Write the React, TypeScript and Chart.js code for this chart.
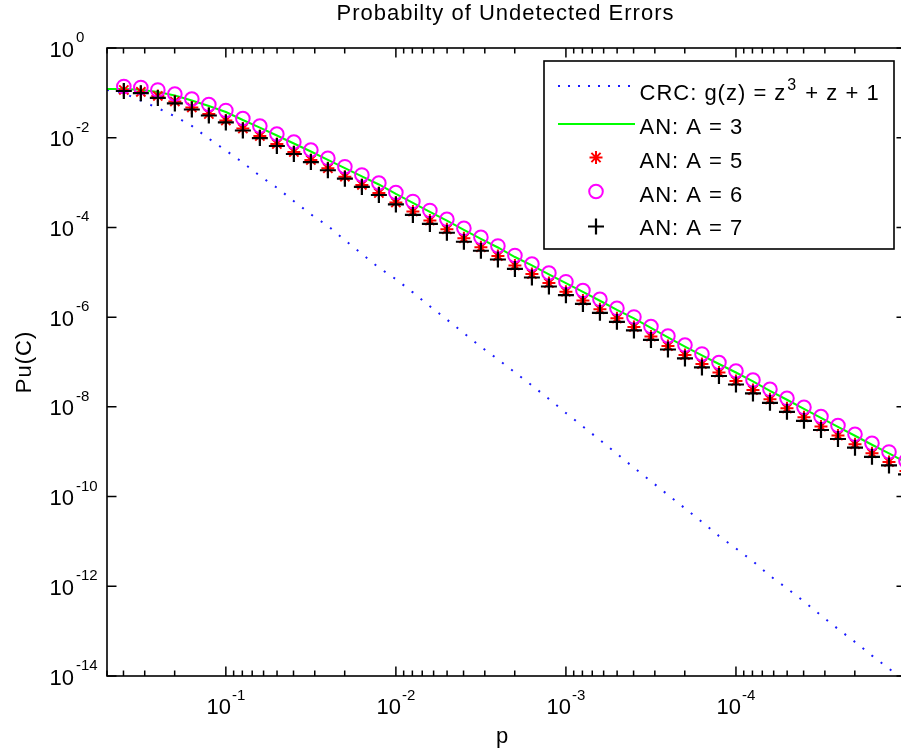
import React, { useEffect, useRef } from 'react';
import { Chart, registerables } from 'chart.js';

Chart.register(...registerables);

// ---- data ----
const P_VALUES = [
  0.5, 0.3981, 0.3162, 0.2512, 0.1995, 0.1585, 0.1259, 0.1,
  0.07943, 0.0631, 0.05012, 0.03981, 0.03162, 0.02512, 0.01995, 0.01585, 0.01259, 0.01,
  0.007943, 0.00631, 0.005012, 0.003981, 0.003162, 0.002512, 0.001995, 0.001585, 0.001259, 0.001,
  7.943e-4, 6.31e-4, 5.012e-4, 3.981e-4, 3.162e-4, 2.512e-4, 1.995e-4, 1.585e-4, 1.259e-4, 1e-4,
  7.943e-5, 6.31e-5, 5.012e-5, 3.981e-5, 3.162e-5, 2.512e-5, 1.995e-5, 1.585e-5, 1.259e-5, 1e-5,
];

const CRC_VALUES = [
  0.117, 0.0977, 0.0676, 0.0457, 0.03, 0.0183, 9.55e-3, 5.19e-3,
  2.79e-3, 1.41e-3, 7.69e-4, 3.85e-4, 1.96e-4, 1.08e-4, 5.22e-5, 2.57e-5, 1.27e-5, 7.02e-6,
  3.56e-6, 1.75e-6, 8.83e-7, 4.39e-7, 2.18e-7, 1.15e-7, 5.87e-8, 3.0e-8, 1.5e-8, 7.3e-9,
  3.65e-9, 1.82e-9, 8.96e-10, 4.39e-10, 2.2e-10, 1.09e-10, 5.46e-11, 2.71e-11, 1.32e-11, 6.97e-12,
  3.61e-12, 1.71e-12, 8.99e-13, 4.57e-13, 2.25e-13, 1.12e-13, 5.74e-14, 2.84e-14, 1.46e-14, 7.4e-15,
];

const AN3_VALUES = [
  0.122, 0.122, 0.117, 0.1045, 0.0873, 0.0676, 0.0509, 0.0374,
  0.0248, 0.01685, 0.0112, 7.44e-3, 4.93e-3, 3.22e-3, 2.09e-3, 1.37e-3, 9.07e-4, 5.57e-4,
  3.51e-4, 2.21e-4, 1.41e-4, 8.86e-5, 5.58e-5, 3.57e-5, 2.19e-5, 1.42e-5, 8.93e-6, 5.71e-6,
  3.64e-6, 2.32e-6, 1.45e-6, 9.35e-7, 5.73e-7, 3.52e-7, 2.21e-7, 1.4e-7, 9.03e-8, 5.83e-8,
  3.68e-8, 2.28e-8, 1.44e-8, 9.06e-9, 5.65e-9, 3.56e-9, 2.27e-9, 1.43e-9, 9.14e-10, 5.76e-10,
];

// marker series start at the second p value
const AN5_VALUES = [
  0.116, 0.105, 0.0853, 0.0643, 0.0472, 0.0338, 0.0242,
  0.016, 0.01088, 7.24e-3, 4.8e-3, 3.18e-3, 2.08e-3, 1.35e-3, 8.85e-4, 5.85e-4, 3.59e-4,
  2.27e-4, 1.43e-4, 9.09e-5, 5.72e-5, 3.61e-5, 2.31e-5, 1.42e-5, 9.15e-6, 5.76e-6, 3.69e-6,
  2.35e-6, 1.5e-6, 9.39e-7, 6.04e-7, 3.7e-7, 2.27e-7, 1.43e-7, 9.03e-8, 5.83e-8, 3.77e-8,
  2.37e-8, 1.47e-8, 9.27e-9, 5.85e-9, 3.65e-9, 2.3e-9, 1.47e-9, 9.21e-10, 5.9e-10, 3.72e-10,
];

const AN6_VALUES = [
  0.139, 0.132, 0.116, 0.0944, 0.073, 0.055, 0.0405,
  0.0268, 0.0182, 0.0121, 8.03e-3, 5.32e-3, 3.48e-3, 2.26e-3, 1.48e-3, 9.79e-4, 6.01e-4,
  3.79e-4, 2.39e-4, 1.52e-4, 9.57e-5, 6.03e-5, 3.86e-5, 2.37e-5, 1.53e-5, 9.64e-6, 6.17e-6,
  3.93e-6, 2.5e-6, 1.57e-6, 1.01e-6, 6.19e-7, 3.8e-7, 2.39e-7, 1.51e-7, 9.75e-8, 6.3e-8,
  3.97e-8, 2.46e-8, 1.55e-8, 9.78e-9, 6.1e-9, 3.84e-9, 2.45e-9, 1.54e-9, 9.87e-10, 6.22e-10,
];

const AN7_VALUES = [
  0.11, 0.0985, 0.0769, 0.058, 0.0426, 0.0313, 0.0219,
  0.0145, 9.83e-3, 6.53e-3, 4.34e-3, 2.87e-3, 1.88e-3, 1.22e-3, 7.99e-4, 5.29e-4, 3.25e-4,
  1.9e-4, 1.2e-4, 7.6e-5, 4.79e-5, 3.02e-5, 1.93e-5, 1.19e-5, 7.65e-6, 4.82e-6, 3.09e-6,
  1.97e-6, 1.25e-6, 7.85e-7, 5.05e-7, 3.1e-7, 1.9e-7, 1.2e-7, 7.55e-8, 4.88e-8, 3.15e-8,
  1.99e-8, 1.23e-8, 7.75e-9, 4.89e-9, 3.05e-9, 1.92e-9, 1.23e-9, 7.7e-10, 4.94e-10, 3.11e-10,
];

const Y_TICK_EXPONENTS = [0, -2, -4, -6, -8, -10, -12, -14];
const X_TICK_EXPONENTS = [-1, -2, -3, -4];
const X_MINOR_MANTISSAS = [2, 3, 4, 5, 6, 7, 8, 9];
const X_MINOR_DECADES = [-5, -4, -3, -2, -1];

const TITLE = 'Probabilty of Undetected Errors';
const X_LABEL = 'p';
const Y_LABEL = 'Pu(C)';
const LEGEND_LABELS = ['CRC: g(z) = z^3 + z + 1', 'AN: A = 3', 'AN: A = 5', 'AN: A = 6', 'AN: A = 7'];

const FONT = '"Liberation Sans", Arial, Helvetica, sans-serif';
const BLUE = '#1a1aff';
const GREEN = '#00ff00';
const RED = '#ff0000';
const MAGENTA = '#ff00ff';
const BLACK = '#000000';

const STAR_R = 6.5;
const CIRCLE_R = 6.8;
const CROSS_R = 8;

function setSpacing(ctx: CanvasRenderingContext2D, v: string) {
  (ctx as any).letterSpacing = v;
}

function drawRich(ctx: CanvasRenderingContext2D, text: string, x: number, y: number, size: number, supSize: number, rise: number) {
  const parts = text.split(/\^(\d+)/);
  let cx = x;
  parts.forEach((part, i) => {
    if (!part) return;
    if (i % 2 === 0) {
      ctx.font = `${size}px ${FONT}`;
      ctx.fillText(part, cx, y);
      cx += ctx.measureText(part).width;
    } else {
      ctx.font = `${supSize}px ${FONT}`;
      ctx.fillText(part, cx + 1, y - rise);
      cx += ctx.measureText(part).width + 2;
    }
  });
}

function drawMarker(ctx: CanvasRenderingContext2D, kind: string, x: number, y: number) {
  ctx.beginPath();
  if (kind === 'star') {
    const r = STAR_R;
    const d = r * Math.SQRT1_2;
    ctx.moveTo(x - r, y); ctx.lineTo(x + r, y);
    ctx.moveTo(x, y - r); ctx.lineTo(x, y + r);
    ctx.moveTo(x - d, y - d); ctx.lineTo(x + d, y + d);
    ctx.moveTo(x - d, y + d); ctx.lineTo(x + d, y - d);
    ctx.strokeStyle = RED; ctx.lineWidth = 2;
  } else if (kind === 'circle') {
    ctx.arc(x, y, CIRCLE_R, 0, Math.PI * 2);
    ctx.strokeStyle = MAGENTA; ctx.lineWidth = 2;
  } else {
    const r = CROSS_R;
    ctx.moveTo(x - r, y); ctx.lineTo(x + r, y);
    ctx.moveTo(x, y - r); ctx.lineTo(x, y + r);
    ctx.strokeStyle = BLACK; ctx.lineWidth = 2.2;
  }
  ctx.stroke();
}

const matlabPlugin = {
  id: 'matlabAxes',
  afterDatasetsDraw(chart: any) {
    const ctx: CanvasRenderingContext2D = chart.ctx;
    const { left, right, top, bottom } = chart.chartArea;
    const xs = chart.scales.x;
    const ys = chart.scales.y;
    ctx.save();
    ctx.strokeStyle = BLACK;
    ctx.lineWidth = 1.6;
    ctx.setLineDash([]);
    ctx.strokeRect(left, top, right - left, bottom - top);

    ctx.beginPath();
    Y_TICK_EXPONENTS.forEach((e) => {
      const y = ys.getPixelForValue(Math.pow(10, e));
      ctx.moveTo(left, y); ctx.lineTo(left + 9.5, y);
      ctx.moveTo(right, y); ctx.lineTo(right - 9.5, y);
    });
    X_TICK_EXPONENTS.forEach((e) => {
      const x = xs.getPixelForValue(Math.pow(10, e));
      ctx.moveTo(x, bottom); ctx.lineTo(x, bottom - 9.5);
      ctx.moveTo(x, top); ctx.lineTo(x, top + 9.5);
    });
    X_MINOR_DECADES.forEach((d) => {
      X_MINOR_MANTISSAS.forEach((m) => {
        const v = m * Math.pow(10, d);
        if (v > xs.max || v < xs.min) return;
        const x = xs.getPixelForValue(v);
        ctx.moveTo(x, bottom); ctx.lineTo(x, bottom - 5.5);
        ctx.moveTo(x, top); ctx.lineTo(x, top + 5.5);
      });
    });
    ctx.lineWidth = 1.5;
    ctx.stroke();

    // legend
    const lx = 544, ly = 61, lw = 350, lh = 188;
    ctx.fillStyle = '#ffffff';
    ctx.fillRect(lx, ly, lw, lh);
    ctx.strokeStyle = BLACK;
    ctx.lineWidth = 1.6;
    ctx.strokeRect(lx, ly, lw, lh);

    const sampleY = [86, 124, 157.5, 191.5, 226.5];
    const textY = [99.5, 134, 168, 201.5, 235];
    ctx.beginPath();
    ctx.strokeStyle = BLUE;
    ctx.lineWidth = 2;
    ctx.setLineDash([2, 8]);
    ctx.moveTo(558, sampleY[0]); ctx.lineTo(636, sampleY[0]);
    ctx.stroke();
    ctx.setLineDash([]);
    ctx.beginPath();
    ctx.strokeStyle = GREEN;
    ctx.lineWidth = 2;
    ctx.moveTo(558, sampleY[1]); ctx.lineTo(635, sampleY[1]);
    ctx.stroke();
    drawMarker(ctx, 'star', 596, sampleY[2]);
    drawMarker(ctx, 'circle', 596, sampleY[3]);
    drawMarker(ctx, 'cross', 596, sampleY[4]);

    ctx.fillStyle = BLACK;
    ctx.textAlign = 'left';
    ctx.textBaseline = 'alphabetic';
    setSpacing(ctx, '1px');
    LEGEND_LABELS.forEach((label, i) => {
      drawRich(ctx, label, 639.5, textY[i], 22, 16, 10);
    });
    setSpacing(ctx, '0px');
    ctx.restore();
  },
  afterDraw(chart: any) {
    const ctx: CanvasRenderingContext2D = chart.ctx;
    const { left, right, top, bottom } = chart.chartArea;
    const xs = chart.scales.x;
    const ys = chart.scales.y;
    ctx.save();
    ctx.fillStyle = BLACK;
    setSpacing(ctx, '0px');

    Y_TICK_EXPONENTS.forEach((e) => {
      const y = ys.getPixelForValue(Math.pow(10, e));
      ctx.font = `22px ${FONT}`;
      ctx.textAlign = 'right';
      ctx.textBaseline = 'alphabetic';
      ctx.fillText('10', left - 33, y + 8.5);
      ctx.font = `15px ${FONT}`;
      ctx.textAlign = 'left';
      ctx.fillText(String(e), left - 31, y - 6);
    });

    X_TICK_EXPONENTS.forEach((e) => {
      const x = xs.getPixelForValue(Math.pow(10, e));
      ctx.font = `22px ${FONT}`;
      const w1 = ctx.measureText('10').width;
      ctx.font = `15px ${FONT}`;
      const w2 = ctx.measureText(String(e)).width;
      const start = x - (w1 + w2 + 1) / 2;
      ctx.textAlign = 'left';
      ctx.textBaseline = 'alphabetic';
      ctx.font = `22px ${FONT}`;
      ctx.fillText('10', start, bottom + 37.5);
      ctx.font = `15px ${FONT}`;
      ctx.fillText(String(e), start + w1 + 1, bottom + 24);
    });

    setSpacing(ctx, '1px');
    ctx.font = `22px ${FONT}`;
    ctx.textAlign = 'center';
    ctx.textBaseline = 'alphabetic';
    ctx.fillText(TITLE, (left + right) / 2 - 1, 20);
    ctx.fillText(X_LABEL, (left + right) / 2 - 4, bottom + 67);
    ctx.save();
    ctx.translate(25, (top + bottom) / 2);
    ctx.rotate(-Math.PI / 2);
    ctx.textBaseline = 'middle';
    ctx.fillText(Y_LABEL, 0, 0);
    ctx.restore();
    setSpacing(ctx, '0px');
    ctx.restore();
  },
};

function toPoints(xs: number[], ys: number[]) {
  return ys.map((y, i) => ({ x: xs[i], y }));
}

export default function App() {
  const ref = useRef<HTMLCanvasElement>(null);
  useEffect(() => {
    const canvas = ref.current;
    if (!canvas) return;
    const markerP = P_VALUES.slice(1);
    const chart = new Chart(canvas, {
      type: 'line',
      data: {
        datasets: [
          {
            label: 'CRC: g(z) = z³ + z + 1',
            data: toPoints(P_VALUES, CRC_VALUES),
            borderColor: BLUE,
            borderWidth: 2,
            borderDash: [2, 9.5],
            borderCapStyle: 'butt',
            pointRadius: 0,
            tension: 0,
            fill: false,
            order: 5,
          },
          {
            label: LEGEND_LABELS[1],
            data: toPoints(P_VALUES, AN3_VALUES),
            borderColor: GREEN,
            borderWidth: 2,
            pointRadius: 0,
            tension: 0,
            fill: false,
            order: 4,
          },
          {
            label: LEGEND_LABELS[2],
            data: toPoints(markerP, AN5_VALUES),
            showLine: false,
            pointStyle: 'star',
            pointRadius: STAR_R,
            pointBorderWidth: 2,
            pointBorderColor: RED,
            pointBackgroundColor: 'rgba(0,0,0,0)',
            borderColor: RED,
            order: 3,
          },
          {
            label: LEGEND_LABELS[3],
            data: toPoints(markerP, AN6_VALUES),
            showLine: false,
            pointStyle: 'circle',
            pointRadius: CIRCLE_R,
            pointBorderWidth: 2,
            pointBorderColor: MAGENTA,
            pointBackgroundColor: 'rgba(0,0,0,0)',
            borderColor: MAGENTA,
            order: 2,
          },
          {
            label: LEGEND_LABELS[4],
            data: toPoints(markerP, AN7_VALUES),
            showLine: false,
            pointStyle: 'cross',
            pointRadius: CROSS_R,
            pointBorderWidth: 2.2,
            pointBorderColor: BLACK,
            pointBackgroundColor: 'rgba(0,0,0,0)',
            borderColor: BLACK,
            order: 1,
          },
        ],
      },
      options: {
        responsive: false,
        animation: false,
        devicePixelRatio: 1,
        events: [],
        layout: { padding: { left: 107, top: 48, right: 6, bottom: 73 }, autoPadding: false },
        scales: {
          x: { type: 'logarithmic', display: false, reverse: true, min: 1e-5, max: 0.5 },
          y: { type: 'logarithmic', display: false, min: 1e-14, max: 1 },
        },
        plugins: {
          legend: { display: false },
          title: { display: false },
          tooltip: { enabled: false },
        },
      },
      plugins: [matlabPlugin],
    } as any);
    return () => chart.destroy();
  }, []);

  return (
    <div style={{ position: 'fixed', left: 0, top: 0, width: 901, height: 749, overflow: 'hidden', background: '#ffffff' }}>
      <canvas ref={ref} width={912} height={749} style={{ display: 'block', width: 912, height: 749 }} />
    </div>
  );
}
